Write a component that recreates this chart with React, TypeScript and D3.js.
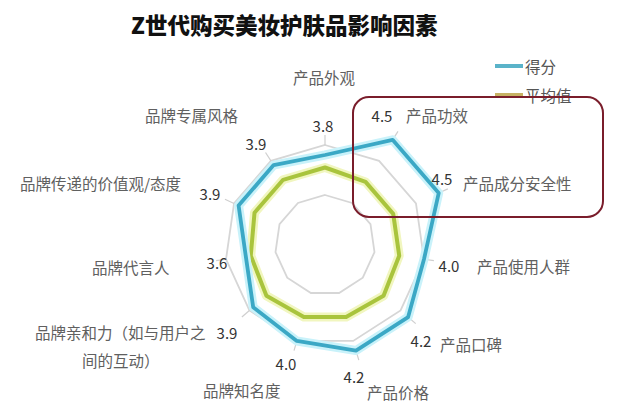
import React from 'react';
import * as d3 from 'd3';

// chart data
const title = 'Z世代购买美妆护肤品影响因素';
const categories = [
  '产品外观',
  '产品功效',
  '产品成分安全性',
  '产品使用人群',
  '产品口碑',
  '产品价格',
  '品牌知名度',
  '品牌亲和力（如与用户之间的互动）',
  '品牌代言人',
  '品牌传递的价值观/态度',
  '品牌专属风格',
];
const scores = [3.8, 4.5, 4.5, 4.0, 4.2, 4.2, 4.0, 3.9, 3.6, 3.9, 3.9];
const averages = [3.55, 3.5, 3.5, 3.5, 3.55, 3.5, 3.5, 3.55, 3.5, 3.55, 3.55];
const gridValues = [3, 4];
const seriesNames = ['得分', '平均值'];

// label placement
const catLayout = [
  { x: 293, y: 77, lines: ['产品外观'] },
  { x: 406, y: 115, lines: ['产品功效'] },
  { x: 463, y: 183, lines: ['产品成分安全性'] },
  { x: 477, y: 266, lines: ['产品使用人群'] },
  { x: 440, y: 344, lines: ['产品口碑'] },
  { x: 367, y: 392, lines: ['产品价格'] },
  { x: 203, y: 390, lines: ['品牌知名度'] },
  { x: 35, y: 332, lines: ['品牌亲和力（如与用户之', '间的互动）'], x2: 82 },
  { x: 92, y: 267, lines: ['品牌代言人'] },
  { x: 20, y: 183, lines: ['品牌传递的价值观/态度'] },
  { x: 145, y: 115, lines: ['品牌专属风格'] },
];
const valueLayout = [
  [323, 125], [382, 115], [442, 178], [449, 265], [421, 340], [354, 376],
  [286, 363], [227, 332], [217, 262], [210, 193], [256, 143],
];

const W = 625;
const H = 413;
const cx = 325;
const cy = 245;
const font = '"Noto Sans CJK SC", "Noto Sans", sans-serif';

export default function App() {
  const r = d3.scaleLinear().domain([2, 5]).range([0, 150]);
  const step = (2 * Math.PI) / categories.length;

  const radial = d3.lineRadial<number>()
    .angle((d, i) => i * step)
    .radius(d => r(d))
    .curve(d3.curveLinearClosed);

  const polar = (a: number, rad: number) => [Math.sin(a) * rad, -Math.cos(a) * rad];

  return (
    <svg width={W} height={H} style={{ position: 'absolute', left: 0, top: 0, background: '#fff' }}
      fontFamily={font}>
      <text x={131} y={24} dominantBaseline="central" fontSize={22.5} fontWeight={900} fill="#111">{title}</text>

      <g transform={`translate(${cx},${cy})`}>
        {gridValues.map(g => (
          <path key={g} d={radial(categories.map(() => g)) || ''} fill="none" stroke="#d6d6d6" strokeWidth={1.8} />
        ))}
        {/* short leader ticks just outside each score point */}
        {categories.map((c, i) => {
          const a = i * step
          const [x1, y1] = polar(a, Math.max(r(scores[i]), r(4)))
          const [x2, y2] = polar(a, Math.max(r(scores[i]), r(4)) + 10)
          return <line key={c} x1={x1} y1={y1} x2={x2} y2={y2} stroke="#cfcfcf" strokeWidth={1.2} />
        })}
        <path d={radial(averages) || ''} fill="none" stroke="#f1f6bf" strokeWidth={9} strokeLinejoin="round" />
        <path d={radial(averages) || ''} fill="none" stroke="#a9c43d" strokeWidth={4} strokeLinejoin="round" />
        <path d={radial(scores) || ''} fill="none" stroke="#c9f2fa" strokeWidth={9} strokeLinejoin="round" />
        <path d={radial(scores) || ''} fill="none" stroke="#3ba8c5" strokeWidth={3.8} strokeLinejoin="round" />
      </g>

      {catLayout.map((l, i) => (
        <g key={categories[i]}>
          {l.lines.map((t, j) => (
            <text key={t} x={j === 0 ? l.x : l.x2} y={l.y + j * 28} dominantBaseline="central"
              fontSize={15.5} fill="#606060">{t}</text>
          ))}
        </g>
      ))}
      {valueLayout.map(([x, y], i) => (
        <text key={i} x={x} y={y} textAnchor="middle" dominantBaseline="central" fontSize={15} fill="#333">
          {d3.format('.1f')(scores[i])}
        </text>
      ))}

      <g>
        <line x1={495} x2={523} y1={66} y2={66} stroke="#5ab3c9" strokeWidth={4} />
        <text x={525} y={66} dominantBaseline="central" fontSize={15.5} fill="#555">{seriesNames[0]}</text>
        <line x1={495} x2={523} y1={95} y2={95} stroke="#c7b264" strokeWidth={4} />
        <text x={525} y={95} dominantBaseline="central" fontSize={15.5} fill="#555">{seriesNames[1]}</text>
      </g>

      <rect x={353} y={97} width={250} height={120} rx={16} fill="none" stroke="#7a1d2b" strokeWidth={2} />
    </svg>
  );
}
